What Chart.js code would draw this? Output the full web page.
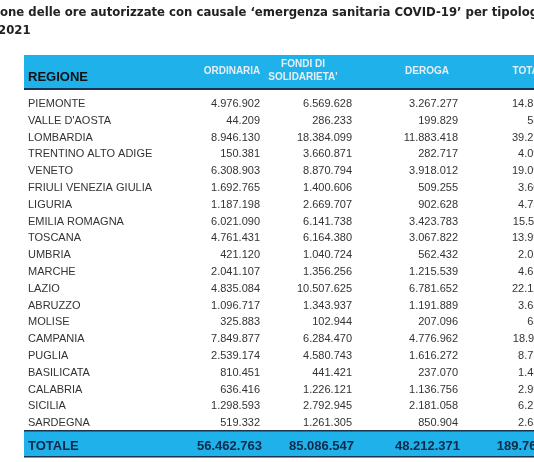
<!DOCTYPE html>
<html><head><meta charset="utf-8">
<script src="https://cdn.jsdelivr.net/npm/chart.js@4"></script>
<style>html,body{margin:0;padding:0;background:#fff}#wrap{width:534px;height:462px}</style>
</head><body><div id="wrap"><canvas id="c" width="534" height="462"></canvas></div>
<script>
const regioni = ['PIEMONTE','VALLE D\'AOSTA','LOMBARDIA','TRENTINO ALTO ADIGE','VENETO','FRIULI VENEZIA GIULIA','LIGURIA','EMILIA ROMAGNA','TOSCANA','UMBRIA','MARCHE','LAZIO','ABRUZZO','MOLISE','CAMPANIA','PUGLIA','BASILICATA','CALABRIA','SICILIA','SARDEGNA'];
const ordinaria = [4976902,44209,8946130,150381,6308903,1692765,1187198,6021090,4761431,421120,2041107,4835084,1096717,325883,7849877,2539174,810451,636416,1298593,519332];
const fondi = [6569628,286233,18384099,3660871,8870794,1400606,2669707,6141738,6164380,1040724,1356256,10507625,1343937,102944,6284470,4580743,441421,1226121,2792945,1261305];
const deroga = [3267277,199829,11883418,282717,3918012,509255,902628,3423783,3067822,562432,1215539,6781652,1191889,207096,4776962,1616272,237070,1136756,2181058,850904];
const totale = [14813807,530271,39213647,4093969,19097709,3602626,4759533,15586611,13993633,2024276,4612902,22124361,3632543,635923,18911309,8736189,1488942,2999293,6272596,2631541];
const totaliRiga = [56462763,85086547,48212371,189761681];
const intestazioni = ['ORDINARIA',['FONDI DI','SOLIDARIETA\''],'DEROGA','TOTALE'];

const fmt = n => n.toString().replace(/\B(?=(\d{3})+(?!\d))/g, '.');
const colRight = [260, 352, 458, 567];
const colHead = [232, 303, 427, 532];

const tablePlugin = {
    id: 'table',
    afterDraw(chart) {
        const ctx = chart.ctx, y = chart.scales.y;
        ctx.save();
        // title
        ctx.fillStyle = '#222';
        ctx.font = 'bold 11.7px "DejaVu Sans"';
        ctx.textBaseline = 'middle';
        ctx.textAlign = 'left';
        const pre = 'Distribuzi';
        ctx.fillText(pre + 'one delle ore autorizzate con causale \u2018emergenza sanitaria COVID-19\u2019 per tipologia', -ctx.measureText(pre).width, 13);
        ctx.fillText('2021', -2, 31);
        // header band
        ctx.fillStyle = '#1eb1ea';
        ctx.fillRect(24, 55, 520, 34);
        ctx.fillStyle = '#1a3350';
        ctx.fillRect(24, 88, 520, 2);
        ctx.fillStyle = '#111';
        ctx.font = 'bold 13px "Liberation Sans"';
        ctx.fillText('REGIONE', 28, 77);
        ctx.fillStyle = '#e8eef3';
        ctx.font = 'bold 10px "Liberation Sans"';
        ctx.textAlign = 'center';
        intestazioni.forEach((h, i) => {
            if (Array.isArray(h)) { ctx.fillText(h[0], colHead[i], 64); ctx.fillText(h[1], colHead[i], 77); }
            else ctx.fillText(h, colHead[i], 71);
        });
        // rows
        ctx.font = '11px "Liberation Sans"';
        ctx.fillStyle = '#333';
        regioni.forEach((r, i) => {
            const py = y.getPixelForValue(i);
            ctx.textAlign = 'left';
            ctx.fillText(r, 28, py);
            ctx.textAlign = 'right';
            [ordinaria[i], fondi[i], deroga[i], totale[i]].forEach((v, k) => ctx.fillText(fmt(v), colRight[k], py));
        });
        // total band
        ctx.fillStyle = '#1eb1ea';
        ctx.fillRect(24, 431, 520, 26);
        ctx.fillStyle = '#1a3350';
        ctx.fillRect(24, 430, 520, 1.5);
        ctx.fillRect(24, 456, 520, 1.5);
        ctx.fillStyle = '#0e2a48';
        ctx.font = 'bold 13px "Liberation Sans"';
        ctx.textAlign = 'left';
        ctx.fillText('TOTALE', 28, 446);
        ctx.textAlign = 'right';
        totaliRiga.forEach((v, k) => ctx.fillText(fmt(v), colRight[k] + 2, 446));
        ctx.restore();
    }
};

new Chart(document.getElementById('c'), {
    type: 'bar',
    data: {
        labels: regioni,
        datasets: [{ data: totale, backgroundColor: 'rgba(0,0,0,0)' }]
    },
    options: {
        indexAxis: 'y',
        responsive: false,
        animation: false,
        layout: { padding: { top: 95.6, bottom: 30.4, left: 24, right: 0 } },
        plugins: { legend: { display: false }, tooltip: { enabled: false } },
        scales: { x: { display: false }, y: { display: false } }
    },
    plugins: [tablePlugin]
});
</script>
</body></html>
